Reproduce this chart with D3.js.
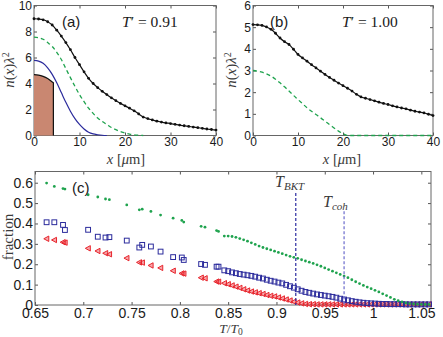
<!DOCTYPE html>
<html>
<head>
<meta charset="utf-8">
<script src="https://cdn.jsdelivr.net/npm/d3@7"></script>
<style>
  body { margin: 0; background: #fff; }
  svg { display: block; }
  .tick text { font-family: "Liberation Sans", Arial, sans-serif; font-size: 12px; fill: #1a1a1a; }
  .big .tick text { font-size: 14px; }
  .tick line { stroke: #555; }
  .serif { font-family: "Liberation Serif", "DejaVu Serif", serif; fill: #3a3a3a; }
  .sans { font-family: "Liberation Sans", Arial, sans-serif; fill: #1a1a1a; }
</style>
</head>
<body>
<div id="chart"></div>
<script>
// ---- panel (a): T' = 0.91, density profiles vs x [um]
const posA = [0,1,2,3,4,5,6,7,8,9,10,11,12,13,14,15,16,17,18,19,20,
  21,22,23,24,25,26,27,28,29,30,31,32,33,34,35,36,37,38,39,40];
const totalA = [8.98,8.96,8.9,8.75,8.5,8.1,7.65,7.15,6.6,6.0,5.45,4.9,4.4,4.0,3.68,3.4,3.15,2.9,2.68,2.47,2.28,
  2.1,1.9,1.66,1.42,1.3,1.2,1.1,1.03,0.97,0.92,0.86,0.8,0.75,0.7,0.65,0.6,0.55,0.5,0.46,0.42];
const posGreenA = [0,1,2,3,4,5,6,7,8,9,10,11,12,13,14,15,16,17,18,19,20,21,22,23,24];
const greenA = [7.57,7.52,7.4,7.15,6.85,6.4,5.85,5.15,4.45,3.78,3.15,2.6,2.1,1.7,1.35,1.08,0.85,0.62,0.45,0.3,0.2,0.11,0.05,0.02,0];
const posBlueA = [0,1,2,3,4,5,6,7,8,9,10,11,12,13,14,15,16];
const blueA = [5.78,5.72,5.55,5.2,4.7,4.05,3.3,2.55,1.87,1.3,0.85,0.5,0.25,0.12,0.06,0.02,0];
const posCoreA = [0,1,2,3,4,4.26];
const coreA = [4.68,4.65,4.55,4.38,4.12,4.05];

// ---- panel (b): T' = 1.00
const totalB = [5.12,5.11,5.08,5.01,4.9,4.72,4.5,4.33,4.2,3.98,3.74,3.58,3.43,3.27,3.12,2.97,2.82,2.68,2.55,2.42,2.3,
  2.18,2.05,1.9,1.78,1.72,1.66,1.6,1.54,1.48,1.43,1.37,1.32,1.27,1.23,1.17,1.12,1.08,1.04,0.98,0.92];
const posGreenB = [0,1,2,3,4,5,6,7,8,9,10,11,12,13,14,15,16,17,18,19,20,21,40];
const greenB = [3.0,2.97,2.92,2.84,2.74,2.6,2.43,2.25,2.05,1.85,1.66,1.47,1.28,1.12,0.97,0.82,0.66,0.5,0.35,0.2,0.09,0,0];

// ---- panel (c): fractions vs T/T0
const tSparse = [0.662,0.670,0.679,0.681,0.705,0.715,0.723,0.727,0.745,0.758,0.761,0.770,0.780,0.793,0.802,0.804,0.822,0.826,0.838,0.840];
const greenSparse = [0.598,0.582,0.571,0.569,0.541,0.530,0.520,0.517,0.491,0.467,0.470,0.459,0.441,0.426,0.415,0.407,0.386,0.382,0.365,0.361];
const blueSparse = [0.406,0.406,0.393,0.368,0.369,0.335,0.331,0.333,0.316,0.282,0.295,0.287,0.262,0.235,0.233,0.221,0.201,0.197,0.188,0.188];
const redSparse = [0.325,0.319,0.308,0.306,0.278,0.265,0.254,0.249,0.230,0.209,0.208,0.194,0.182,0.168,0.155,0.154,0.134,0.131,0.115,0.114];

const tDense = [0.846,0.850,0.854,0.858,0.862,0.866,0.870,0.874,0.878,0.882,0.886,0.890,0.894,0.898,0.902,0.906,0.910,0.914,
  0.918,0.922,0.926,0.930,0.934,0.938,0.942,0.946,0.950,0.954,0.958,0.962,0.966,0.970,0.974,0.978,0.982,0.986,
  0.990,0.994,0.998,1.002,1.006,1.010,1.014,1.018,1.022,1.026,1.030,1.034,1.038,1.042,1.046,1.050,1.054,1.058];
const greenDense = [0.338,0.338,0.336,0.332,0.326,0.320,0.313,0.305,0.297,0.289,0.282,0.276,0.270,0.264,0.258,0.252,0.245,0.239,
  0.234,0.229,0.222,0.216,0.210,0.204,0.197,0.190,0.182,0.174,0.166,0.158,0.150,0.142,0.134,0.124,0.114,0.105,
  0.096,0.088,0.080,0.072,0.064,0.055,0.046,0.037,0.028,0.021,0.015,0.010,0.007,0.005,0.004,0.003,0.003,0.003];
const blueDense = [0.170,0.166,0.160,0.156,0.152,0.149,0.146,0.143,0.139,0.134,0.130,0.124,0.119,0.115,0.110,0.106,0.099,0.092,
  0.085,0.077,0.070,0.064,0.060,0.056,0.052,0.049,0.046,0.043,0.040,0.036,0.031,0.027,0.023,0.019,0.016,0.013,
  0.011,0.009,0.008,0.007,0.006,0.005,0.005,0.004,0.004,0.004,0.004,0.003,0.003,0.003,0.003,0.003,0.003,0.003];
const redDense = [0.107,0.102,0.096,0.090,0.084,0.077,0.071,0.066,0.062,0.058,0.054,0.049,0.045,0.042,0.037,0.032,0.027,0.022,
  0.016,0.012,0.008,0.005,0.004,0.004,0.003,0.003,0.003,0.003,0.003,0.003,0.003,0.003,0.003,0.003,0.003,0.003,
  0.003,0.003,0.003,0.003,0.003,0.003,0.003,0.003,0.003,0.003,0.003,0.003,0.003,0.003,0.003,0.003,0.003,0.003];

// vertical markers T_BKT and T_coh
const markerT = [0.92, 0.97];
const markerTop = [0.55, 0.46];

const GREEN = "#1fa34e", BLUE = "#2b2b9c", RED = "#e8242c";

const svg = d3
  .select("#chart")
  .append("svg")
  .attr("width", 443)
  .attr("height", 337);

// draws a boxed matlab-style panel with inward ticks on all sides
function panel(box, xDom, yDom, xTicks, yTicks, xFmt, yFmt, cls, xPad) {
  const x = d3.scaleLinear(xDom, [box.left, box.right]);
  const y = d3.scaleLinear(yDom, [box.bottom, box.top]);
  const g = svg.append("g").attr("class", cls || null);

  g.append("g")
    .attr("transform", `translate(0,${box.bottom})`)
    .call(d3.axisBottom(x).tickValues(xTicks).tickFormat(xFmt).tickSizeInner(-3).tickSizeOuter(0).tickPadding(xPad || 2))
    .call((s) => s.select(".domain").remove());
  g.append("g")
    .attr("transform", `translate(0,${box.top})`)
    .call(d3.axisTop(x).tickValues(xTicks).tickFormat("").tickSizeInner(-3).tickSizeOuter(0))
    .call((s) => s.select(".domain").remove());
  g.append("g")
    .attr("transform", `translate(${box.left},0)`)
    .call(d3.axisLeft(y).tickValues(yTicks).tickFormat(yFmt).tickSizeInner(-3).tickSizeOuter(0).tickPadding(2))
    .call((s) => s.select(".domain").remove());
  g.append("g")
    .attr("transform", `translate(${box.right},0)`)
    .call(d3.axisRight(y).tickValues(yTicks).tickFormat("").tickSizeInner(-3).tickSizeOuter(0))
    .call((s) => s.select(".domain").remove());

  g.append("rect")
    .attr("x", box.left)
    .attr("y", box.top)
    .attr("width", box.right - box.left)
    .attr("height", box.bottom - box.top)
    .attr("fill", "none")
    .attr("stroke", "#666")
    .attr("stroke-width", 1);

  return { x, y, g };
}

function nLabel(cx, cy) {
  const t = svg.append("text")
    .attr("class", "serif")
    .attr("transform", `translate(${cx},${cy}) rotate(-90)`)
    .attr("text-anchor", "middle")
    .style("font-size", "15px");
  t.append("tspan").attr("font-style", "italic").text("n");
  t.append("tspan").text("(");
  t.append("tspan").attr("font-style", "italic").text("x");
  t.append("tspan").text(")");
  t.append("tspan").attr("font-style", "italic").text("λ");
  t.append("tspan").attr("dy", -5).style("font-size", "10px").text("2");
}

function xLabel(cx, cy) {
  const t = svg.append("text")
    .attr("class", "serif")
    .attr("x", cx)
    .attr("y", cy)
    .attr("text-anchor", "middle")
    .style("font-size", "14.5px");
  t.append("tspan").attr("font-style", "italic").text("x");
  t.append("tspan").text(" [");
  t.append("tspan").attr("font-style", "italic").text("μ");
  t.append("tspan").text("m]");
}

function tLabel(xp, yp, val) {
  const t = svg.append("text")
    .attr("class", "serif")
    .attr("x", xp)
    .attr("y", yp)
    .style("font-size", "15.5px")
    .style("fill", "#1a1a1a");
  t.append("tspan").attr("font-style", "italic").text("T");
  t.append("tspan").text("′ = " + val);
}

const lineOf = (x, y, xv) =>
  d3.line().x((d, i) => x(xv[i])).y((d) => y(d)).curve(d3.curveMonotoneX);

// ================= panel (a)
const A = panel({ left: 34, right: 216, top: 5.5, bottom: 135.5 }, [0, 40], [0, 10],
  [0, 10, 20, 30, 40], [0, 2, 4, 6, 8, 10], d3.format("d"), d3.format("d"));

A.g.append("path")
  .datum(coreA)
  .attr("d", d3.area()
    .x((d, i) => A.x(posCoreA[i]))
    .y0(A.y(0))
    .y1((d) => A.y(d))
    .curve(d3.curveMonotoneX))
  .attr("fill", "#c98771");
A.g.append("path")
  .datum(coreA)
  .attr("d", (d) => lineOf(A.x, A.y, posCoreA)(d) + `L${A.x(posCoreA[posCoreA.length - 1])},${A.y(0)}`)
  .attr("fill", "none")
  .attr("stroke", "#111")
  .attr("stroke-width", 1.2);

A.g.append("path")
  .datum(blueA)
  .attr("d", lineOf(A.x, A.y, posBlueA))
  .attr("fill", "none")
  .attr("stroke", BLUE)
  .attr("stroke-width", 1.2);

A.g.append("path")
  .datum(greenA)
  .attr("d", lineOf(A.x, A.y, posGreenA))
  .attr("fill", "none")
  .attr("stroke", GREEN)
  .attr("stroke-width", 1.3)
  .attr("stroke-dasharray", "4,3");

A.g.append("path")
  .datum(totalA)
  .attr("d", lineOf(A.x, A.y, posA))
  .attr("fill", "none")
  .attr("stroke", "#111")
  .attr("stroke-width", 1.2);
A.g.selectAll(".dotA")
  .data(totalA)
  .join("circle")
  .attr("cx", (d, i) => A.x(posA[i]))
  .attr("cy", (d) => A.y(d))
  .attr("r", 1.4)
  .attr("fill", "#111");

svg.append("text").attr("class", "sans").attr("x", 62).attr("y", 27).style("font-size", "15px").text("(a)");
tLabel(122, 27, "0.91");
nLabel(14, 70);
xLabel(126, 164);

// ================= panel (b)
const B = panel({ left: 253, right: 433, top: 5.5, bottom: 135.5 }, [0, 40], [0, 6],
  [0, 10, 20, 30, 40], [0, 1, 2, 3, 4, 5, 6], d3.format("d"), d3.format("d"));

B.g.append("path")
  .datum(greenB)
  .attr("d", lineOf(B.x, B.y, posGreenB))
  .attr("fill", "none")
  .attr("stroke", GREEN)
  .attr("stroke-width", 1.3)
  .attr("stroke-dasharray", "4,3");

B.g.append("path")
  .datum(totalB)
  .attr("d", lineOf(B.x, B.y, posA))
  .attr("fill", "none")
  .attr("stroke", "#111")
  .attr("stroke-width", 1.2);
B.g.selectAll(".dotB")
  .data(totalB)
  .join("circle")
  .attr("cx", (d, i) => B.x(posA[i]))
  .attr("cy", (d) => B.y(d))
  .attr("r", 1.4)
  .attr("fill", "#111");

svg.append("text").attr("class", "sans").attr("x", 270).attr("y", 27).style("font-size", "15px").text("(b)");
tLabel(342, 27, "1.00");
nLabel(236, 70);
xLabel(342, 164);

// ================= panel (c)
const C = panel({ left: 35, right: 431, top: 171.5, bottom: 305 }, [0.65, 1.06], [0, 0.655],
  [0.65, 0.7, 0.75, 0.8, 0.85, 0.9, 0.95, 1, 1.05], [0, 0.1, 0.2, 0.3, 0.4, 0.5, 0.6],
  (d) => String(+d.toFixed(2)), (d) => String(+d.toFixed(1)), "big", 3);

const tAll = tSparse.concat(tDense);
const redAll = redSparse.concat(redDense);
const blueAll = blueSparse.concat(blueDense);
const greenAll = greenSparse.concat(greenDense);

C.g.selectAll(".tri")
  .data(redAll)
  .join("path")
  .attr("transform", (d, i) => `translate(${C.x(tAll[i])},${C.y(d)})`)
  .attr("d", "M-2.8,0L2.2,-2.7L2.2,2.7Z")
  .attr("fill", "rgba(232,36,44,0.4)")
  .attr("stroke", RED)
  .attr("stroke-width", 1);

C.g.selectAll(".sq")
  .data(blueAll)
  .join("rect")
  .attr("x", (d, i) => C.x(tAll[i]) - 2.4)
  .attr("y", (d) => C.y(d) - 2.4)
  .attr("width", 4.8)
  .attr("height", 4.8)
  .attr("fill", "none")
  .attr("stroke", BLUE)
  .attr("stroke-width", 1);

C.g.selectAll(".gdot")
  .data(greenAll)
  .join("circle")
  .attr("cx", (d, i) => C.x(tAll[i]))
  .attr("cy", (d) => C.y(d))
  .attr("r", 1.4)
  .attr("fill", GREEN);

C.g.selectAll(".mark")
  .data(markerT)
  .join("line")
  .attr("x1", (d) => C.x(d))
  .attr("x2", (d) => C.x(d))
  .attr("y1", (d, i) => C.y(markerTop[i]))
  .attr("y2", C.y(0))
  .attr("stroke", (d, i) => (i === 0 ? "#2a2aa0" : "#6a6acc"))
  .attr("stroke-width", 1.2)
  .attr("stroke-dasharray", "3,2");

const tb = svg.append("text").attr("class", "serif").attr("x", 275).attr("y", 187).style("font-size", "16px");
tb.append("tspan").attr("font-style", "italic").text("T");
tb.append("tspan").attr("font-style", "italic").attr("dy", 3).style("font-size", "11px").text("BKT");
const tc = svg.append("text").attr("class", "serif").attr("x", 323).attr("y", 207).style("font-size", "16px");
tc.append("tspan").attr("font-style", "italic").text("T");
tc.append("tspan").attr("font-style", "italic").attr("dy", 3).style("font-size", "11px").text("coh");

svg.append("text").attr("class", "sans").attr("x", 72).attr("y", 193).style("font-size", "15px").text("(c)");

svg.append("text")
  .attr("class", "serif")
  .attr("transform", "translate(13,237) rotate(-90)")
  .attr("text-anchor", "middle")
  .style("font-size", "15px")
  .text("fraction");

const tt = svg.append("text").attr("class", "serif").attr("x", 231).attr("y", 333).attr("text-anchor", "middle").style("font-size", "13.5px");
tt.append("tspan").attr("font-style", "italic").text("T");
tt.append("tspan").text("/");
tt.append("tspan").attr("font-style", "italic").text("T");
tt.append("tspan").attr("dy", 2).style("font-size", "9.5px").text("0");
</script>
</body>
</html>
